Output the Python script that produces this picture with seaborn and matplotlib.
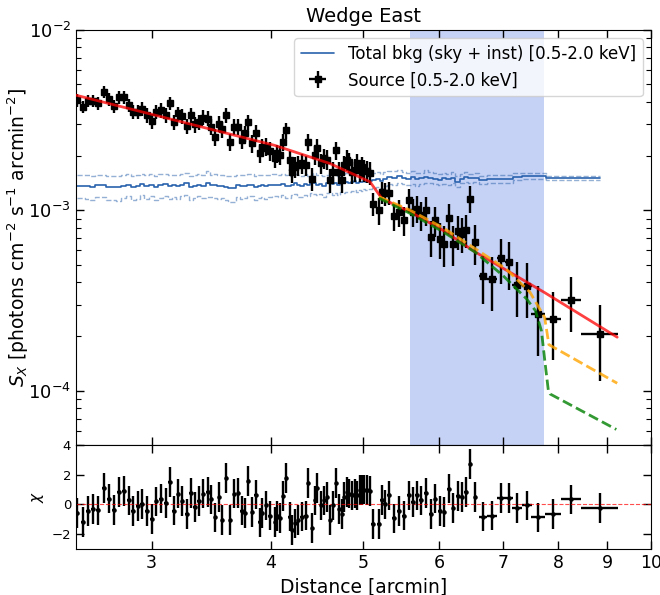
import numpy as np
import matplotlib
matplotlib.use('Agg')
import matplotlib.pyplot as plt
from matplotlib.ticker import (ScalarFormatter, NullFormatter, NullLocator,
                               FixedLocator, LogLocator)
import seaborn as sns

# radial bins [arcmin]
radius = [2.507, 2.541, 2.575, 2.603, 2.637, 2.673, 2.706, 2.739, 2.772, 2.806,
          2.840, 2.870, 2.905, 2.933, 2.964, 3.000, 3.034, 3.066, 3.103, 3.133,
          3.166, 3.200, 3.231, 3.265, 3.299, 3.331, 3.363, 3.399, 3.437, 3.466,
          3.496, 3.530, 3.559, 3.593, 3.625, 3.660, 3.699, 3.728, 3.756, 3.789,
          3.826, 3.857, 3.894, 3.920, 3.958, 3.989, 4.038,
          4.063, 4.085, 4.118, 4.152, 4.185, 4.213, 4.239, 4.274, 4.308, 4.350,
          4.379, 4.414, 4.449, 4.475, 4.511, 4.547, 4.585, 4.613, 4.647, 4.677,
          4.715, 4.746, 4.772, 4.803, 4.830, 4.870, 4.901, 4.929, 4.957, 4.981,
          5.008, 5.041, 5.078,
          5.123, 5.186, 5.227, 5.269, 5.320, 5.385, 5.450, 5.516, 5.576, 5.630,
          5.684, 5.748, 5.814, 5.880, 5.946, 6.014, 6.076, 6.141, 6.210, 6.276,
          6.342, 6.403, 6.473, 6.547,
          6.670, 6.817, 6.971, 7.102, 7.241, 7.418, 7.618, 7.898, 8.256, 8.843]
radius_err = [0.012] * 80 + [0.025] * 24 + [0.06, 0.075, 0.07, 0.07, 0.08, 0.09, 0.13, 0.15, 0.20, 0.39]

# surface brightness [1e-3 photons cm-2 s-1 arcmin-2]
sb = [4.08, 3.75, 4.05, 4.05, 3.92, 4.54, 4.14, 3.78, 4.23, 4.23,
      3.83, 3.52, 3.52, 3.67, 3.37, 3.13, 3.52, 3.59, 3.37, 3.92,
      3.09, 3.45, 3.33, 2.93, 3.37, 3.00, 3.09, 3.27, 3.23, 2.91,
      2.55, 3.03, 2.81, 3.37, 2.40, 2.90, 2.90, 2.47, 2.67, 3.09,
      2.35, 2.69, 2.07, 2.23, 2.25, 2.14, 1.94,
      2.07, 2.02, 2.40, 2.78, 1.90, 1.63, 1.74, 1.78, 1.82, 1.78,
      2.40, 1.50, 2.02, 2.23, 1.82, 1.94, 1.91, 1.47, 1.63, 2.15,
      1.63, 1.47, 1.78, 1.90, 1.85, 1.63, 1.68, 1.82, 1.67, 1.74,
      1.67, 1.65, 1.61,
      1.09, 1.00, 1.26, 1.24, 1.25, 0.926, 0.978, 0.880, 1.14, 0.978,
      1.02, 0.938, 1.00, 0.711, 0.880, 0.696, 0.653, 0.911, 0.653, 0.767,
      0.742, 0.781, 1.16, 0.667,
      0.430, 0.414, 0.543, 0.516, 0.388, 0.383, 0.267, 0.251, 0.319, 0.205]
sb_frac_err = [0.08, 0.08, 0.08, 0.08, 0.08, 0.08, 0.08, 0.08, 0.08, 0.08,
               0.085, 0.09, 0.09, 0.09, 0.09, 0.095, 0.09, 0.09, 0.09, 0.085,
               0.095, 0.09, 0.09, 0.10, 0.09, 0.10, 0.095, 0.095, 0.095, 0.10,
               0.11, 0.10, 0.10, 0.09, 0.11, 0.10, 0.10, 0.11, 0.105, 0.095,
               0.115, 0.105, 0.12, 0.115, 0.115, 0.12, 0.12,
               0.115, 0.12, 0.11, 0.10, 0.125, 0.135, 0.13, 0.13, 0.125, 0.13,
               0.11, 0.15, 0.12, 0.115, 0.13, 0.125, 0.125, 0.15, 0.14, 0.12,
               0.14, 0.15, 0.13, 0.13, 0.13, 0.14, 0.14, 0.13, 0.14, 0.135,
               0.14, 0.14, 0.145,
               0.15, 0.17, 0.14, 0.145, 0.145, 0.17, 0.17, 0.18, 0.155, 0.175,
               0.17, 0.18, 0.18, 0.22, 0.19, 0.23, 0.26, 0.19, 0.25, 0.21,
               0.22, 0.21, 0.17, 0.25,
               0.30, 0.33, 0.28, 0.30, 0.34, 0.34, 0.42, 0.41, 0.34, 0.45]

# residuals
chi = [-0.6, -1.16, -0.46, -0.3, -0.4, 1.12, 0.39, -0.36, 0.84, 0.91,
       0.27, -0.46, -0.11, 0.05, -0.46, -0.98, 0.2, 0.39, 0.11, 1.53,
       -0.41, 0.73, 0.23, -0.64, 0.78, -0.18, 0.23, 0.73, 0.84, 0.34,
       -0.87, 0.5, -1.03, 1.8, -1.03, 0.73, 0.78, -0.41, -0.6, 1.6,
       -0.53, 0.66, -1.21, -0.6, -0.07, -0.75, -1.2,
       -0.8, -0.91, 0.55, 1.8, -0.82, -1.73, -1.28, -1.05, -0.82, -0.75,
       1.46, -1.6, 0.27, 1.12, -0.07, 0.27, 0.5, -1.05, -0.07, 1.42,
       -0.3, -0.64, 0.5, 0.84, 0.73, 0.61, 0.73, 0.61, 0.96, 0.96,
       1.0, 0.96, 0.91,
       -1.32, -1.32, 0.32, 0.0, 0.61, -0.94, -0.46, -0.75, 0.61, 0.16,
       0.61, 0.27, 0.78, -0.64, 0.39, -0.46, -0.53, 1.07, -0.25, 0.55,
       0.5, 0.84, 2.74, 0.5,
       -0.82, -0.75, 0.43, 0.43, -0.25, -0.07, -0.87, -0.64, 0.34, -0.25]

# total background (sky + instrumental) [1e-3]
bkg = [1.37, 1.37, 1.36, 1.34, 1.38, 1.38, 1.35, 1.35, 1.34, 1.37,
       1.39, 1.35, 1.36, 1.40, 1.36, 1.39, 1.35, 1.38, 1.40, 1.36,
       1.38, 1.36, 1.39, 1.41, 1.35, 1.37, 1.39, 1.37, 1.42, 1.38,
       1.38, 1.36, 1.37, 1.35, 1.33, 1.33, 1.38, 1.36, 1.37, 1.39,
       1.39, 1.34, 1.37, 1.38, 1.36, 1.38, 1.39,
       1.39, 1.38, 1.40, 1.37, 1.36, 1.39, 1.41, 1.38, 1.37, 1.40,
       1.38, 1.41, 1.42, 1.39, 1.40, 1.37, 1.41, 1.43, 1.40, 1.42,
       1.39, 1.43, 1.41, 1.44, 1.42, 1.43, 1.45, 1.42, 1.44, 1.43,
       1.46, 1.44, 1.45,
       1.47, 1.49, 1.45, 1.50, 1.53, 1.51, 1.55, 1.52, 1.50, 1.53,
       1.49, 1.51, 1.54, 1.52, 1.50, 1.48, 1.51, 1.49, 1.52, 1.44,
       1.50, 1.53, 1.51, 1.52,
       1.48, 1.49, 1.50, 1.50, 1.54, 1.55, 1.55, 1.51, 1.51, 1.51]
bkg_frac_err = [0.15, 0.14, 0.15, 0.15, 0.14, 0.14, 0.15, 0.15, 0.16, 0.14,
                0.14, 0.15, 0.15, 0.13, 0.15, 0.14, 0.15, 0.15, 0.14, 0.15,
                0.14, 0.15, 0.14, 0.14, 0.15, 0.15, 0.14, 0.15, 0.16, 0.14,
                0.15, 0.15, 0.14, 0.15, 0.16, 0.16, 0.14, 0.15, 0.15, 0.14,
                0.14, 0.15, 0.15, 0.14, 0.15, 0.14, 0.14,
                0.14, 0.14, 0.13, 0.14, 0.14, 0.13, 0.13, 0.14, 0.13, 0.13,
                0.13, 0.12, 0.13, 0.13, 0.12, 0.13, 0.12, 0.12, 0.13, 0.12,
                0.12, 0.12, 0.11, 0.12, 0.11, 0.11, 0.11, 0.11, 0.10, 0.11,
                0.10, 0.10, 0.10,
                0.09, 0.10, 0.09, 0.09, 0.08, 0.09, 0.08, 0.08, 0.08, 0.08,
                0.08, 0.07, 0.08, 0.07, 0.07, 0.07, 0.07, 0.07, 0.07, 0.07,
                0.06, 0.06, 0.06, 0.06,
                0.05, 0.05, 0.05, 0.05, 0.04, 0.04, 0.04, 0.03, 0.03, 0.025]

# model curves [1e-3]
total_r = [2.50, 4.04, 4.61, 5.08, 5.23, 5.60, 6.06, 6.55, 7.74, 9.22]
total_s = [4.35, 2.29, 1.82, 1.44, 1.16, 0.98, 0.774, 0.587, 0.350, 0.198]
orange_r = [5.19, 5.60, 6.06, 6.55, 7.05, 7.47, 7.74, 7.82, 9.22]
orange_s = [1.19, 1.00, 0.80, 0.612, 0.474, 0.352, 0.255, 0.180, 0.110]
green_r = [5.19, 5.60, 6.06, 6.55, 7.00, 7.41, 7.57, 7.68, 7.75, 7.81, 7.84, 9.20]
green_s = [1.17, 0.96, 0.76, 0.585, 0.435, 0.323, 0.278, 0.215, 0.141, 0.100, 0.096, 0.061]

# shaded region [arcmin]
shade_lo, shade_hi = 5.6, 7.72

sns.set_style('ticks', {'xtick.direction': 'in', 'ytick.direction': 'in',
                        'axes.edgecolor': 'black', 'xtick.color': 'black',
                        'ytick.color': 'black', 'text.color': 'black',
                        'axes.labelcolor': 'black'})
plt.rcParams['font.family'] = ['DejaVu Sans']
plt.rcParams['ytick.minor.visible'] = True
plt.rcParams['ytick.minor.size'] = 3.5
plt.rcParams['ytick.minor.width'] = 0.8

r = np.array(radius)
s = np.array(sb) * 1e-3
b = np.array(bkg) * 1e-3
berr = b * np.array(bkg_frac_err)

fig = plt.figure(figsize=(6.6, 5.95), dpi=100)
ax = fig.add_axes([0.115, 0.2521, 0.8712, 0.6975])
axr = fig.add_axes([0.115, 0.0773, 0.8712, 0.1748], sharex=ax)

ax.set_xscale('log')
ax.set_yscale('log')

ax.axvspan(shade_lo, shade_hi, color='royalblue', alpha=0.3, lw=0, zorder=0)

bkg_col = '#2a62ad'
sns.lineplot(x=r, y=b, ax=ax, color=bkg_col, lw=1.2, drawstyle='steps-mid',
             label='Total bkg (sky + inst) [0.5-2.0 keV]', zorder=2)
sns.lineplot(x=r, y=b + berr, ax=ax, color=bkg_col, lw=1.0, ls='--', alpha=0.5,
             drawstyle='steps-mid', zorder=2)
sns.lineplot(x=r, y=b - berr, ax=ax, color=bkg_col, lw=1.0, ls='--', alpha=0.5,
             drawstyle='steps-mid', zorder=2)

ax.errorbar(r, s, xerr=radius_err, yerr=s * np.array(sb_frac_err), fmt='s',
            color='k', ms=4.5, elinewidth=1.7, capsize=0, zorder=3,
            label='Source [0.5-2.0 keV]')

sns.lineplot(x=np.array(total_r), y=np.array(total_s) * 1e-3, ax=ax, color='red',
             alpha=0.75, lw=2, zorder=4)
sns.lineplot(x=np.array(orange_r), y=np.array(orange_s) * 1e-3, ax=ax, color='orange',
             alpha=0.8, lw=2, ls='--', zorder=4)
sns.lineplot(x=np.array(green_r), y=np.array(green_s) * 1e-3, ax=ax, color='green',
             alpha=0.8, lw=2, ls='--', zorder=4)

ax.set_xlim(2.5, 10)
ax.set_ylim(5e-5, 1e-2)
ax.set_title('Wedge East', fontsize=14)
ax.set_ylabel(r'$S_X$ [photons cm$^{-2}$ s$^{-1}$ arcmin$^{-2}$]', fontsize=13.5)
ax.yaxis.set_label_coords(-0.078, 0.5)
ax.yaxis.set_major_locator(LogLocator(base=10, numticks=10))
ax.yaxis.set_minor_locator(LogLocator(base=10, subs=np.arange(2, 10), numticks=40))
ax.yaxis.set_minor_formatter(NullFormatter())

handles, labels = ax.get_legend_handles_labels()
ax.legend(handles, labels, loc='upper right', fontsize=12, framealpha=0.8)

# residual panel
axr.errorbar(r, chi, xerr=radius_err, yerr=1.0, fmt='.', color='k', ms=4.5,
             elinewidth=1.7, capsize=0)
axr.axhline(0, color='red', ls='--', lw=0.8, alpha=0.7)
axr.set_ylim(-3, 4)
axr.set_yticks([-2, 0, 2, 4])
axr.yaxis.set_minor_locator(NullLocator())
axr.set_ylabel(r'$\chi$', fontsize=11)
axr.set_xlabel('Distance [arcmin]', fontsize=13.5)

axr.xaxis.set_major_locator(FixedLocator([3, 4, 5, 6, 7, 8, 9, 10]))
axr.xaxis.set_major_formatter(ScalarFormatter())
axr.xaxis.set_minor_locator(NullLocator())
axr.xaxis.set_minor_formatter(NullFormatter())
axr.set_xlim(2.5, 10)

for a in (ax, axr):
    a.tick_params(which='both', direction='in', top=True, right=True,
                  color='black', labelcolor='black')
    a.tick_params(which='major', length=6, width=1)
    a.tick_params(which='minor', length=3.5, width=0.8)
ax.tick_params(axis='y', labelsize=13)
ax.tick_params(axis='x', labelbottom=False)
axr.tick_params(axis='x', labelsize=12.5)
axr.tick_params(axis='y', labelsize=9.5)

fig.savefig('out.png', dpi=100)
